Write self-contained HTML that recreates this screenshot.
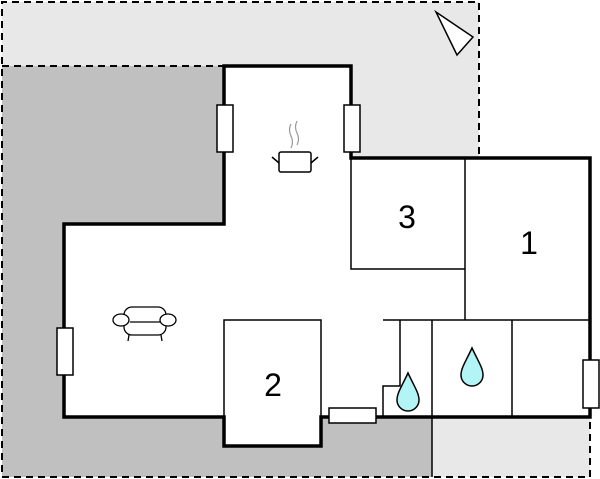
<!DOCTYPE html>
<html><head><style>body{margin:0;background:#fff}svg{display:block}</style></head><body>
<svg width="600" height="479" viewBox="0 0 600 479" xmlns="http://www.w3.org/2000/svg" font-family="Liberation Sans, sans-serif">
<rect x="2" y="2" width="477" height="156" fill="#e8e8e8"/>
<rect x="432" y="417" width="158" height="60" fill="#e8e8e8"/>
<polygon points="2,66 224,66 224,224 64,224 64,417 224,417 224,446 321,446 321,417 432,417 432,477 2,477" fill="#c0c0c0"/>
<g fill="none" stroke="#000" stroke-width="2" stroke-dasharray="7,5">
<polyline points="351,158 479,158 479,2 2,2 2,477 590,477 590,417"/>
<line x1="2" y1="66" x2="224" y2="66"/>
</g>
<line x1="432" y1="417" x2="432" y2="477" stroke="#000" stroke-width="1.5"/>
<polygon points="224,66 351,66 351,158 590,158 590,417 321,417 321,446 224,446 224,417 64,417 64,224 224,224" fill="#fff" stroke="#000" stroke-width="3.5" stroke-linejoin="miter"/>
<g fill="none" stroke="#000" stroke-width="1.5">
<polyline points="351,158 351,269 465,269"/>
<line x1="465" y1="158" x2="465" y2="320"/>
<line x1="383" y1="320" x2="590" y2="320"/>
<polyline points="224,417 224,320 321,320 321,417"/>
<polyline points="400,320 400,386 383,386 383,417"/>
<line x1="432" y1="320" x2="432" y2="417"/>
<line x1="512" y1="320" x2="512" y2="417"/>
</g>
<g fill="#fff" stroke="#000" stroke-width="1.5">
<rect x="217" y="105" width="16" height="47"/>
<rect x="344" y="105" width="16" height="47"/>
<rect x="57" y="328" width="16" height="47"/>
<rect x="583" y="360" width="16" height="48"/>
<rect x="329" y="408" width="47" height="15"/>
<polygon points="436,12 473,37 457,55"/>
</g>
<text x="407" y="228" font-size="32" text-anchor="middle">3</text>
<text x="529" y="254" font-size="32" text-anchor="middle">1</text>
<text x="273" y="396" font-size="32" text-anchor="middle">2</text>
<!-- pot -->
<g fill="none" stroke="#000" stroke-width="1.5">
<rect x="279" y="152" width="32" height="20" rx="2" fill="#fff"/>
<line x1="272" y1="157" x2="279" y2="163"/><line x1="318" y1="157" x2="311" y2="163"/>
</g>
<path d="M291,124 q-3,6 0,12 q3,6 0,12 M297,121 q-3,6 0,12 q3,6 0,12" fill="none" stroke="#999" stroke-width="1.2"/>
<!-- sofa -->
<g fill="#fff" stroke="#000" stroke-width="1.3">
<rect x="124" y="307" width="42" height="28" rx="8"/>
<line x1="130" y1="322" x2="160" y2="322"/>
<ellipse cx="121" cy="320" rx="8" ry="6"/>
<ellipse cx="168" cy="320" rx="8" ry="6"/>
<line x1="129" y1="335" x2="128" y2="341"/><line x1="161" y1="335" x2="162" y2="341"/>
</g>
<g fill="#b3f5f7" stroke="#000" stroke-width="1.5">
<path d="M408,373 C402,386 397,393 397,400 a11,11 0 0 0 22,0 C419,393 414,386 408,373 Z"/>
<path d="M472,348 C466,361 461,368 461,375 a11,11 0 0 0 22,0 C483,368 478,361 472,348 Z"/>
</g>
</svg>
</body></html>
